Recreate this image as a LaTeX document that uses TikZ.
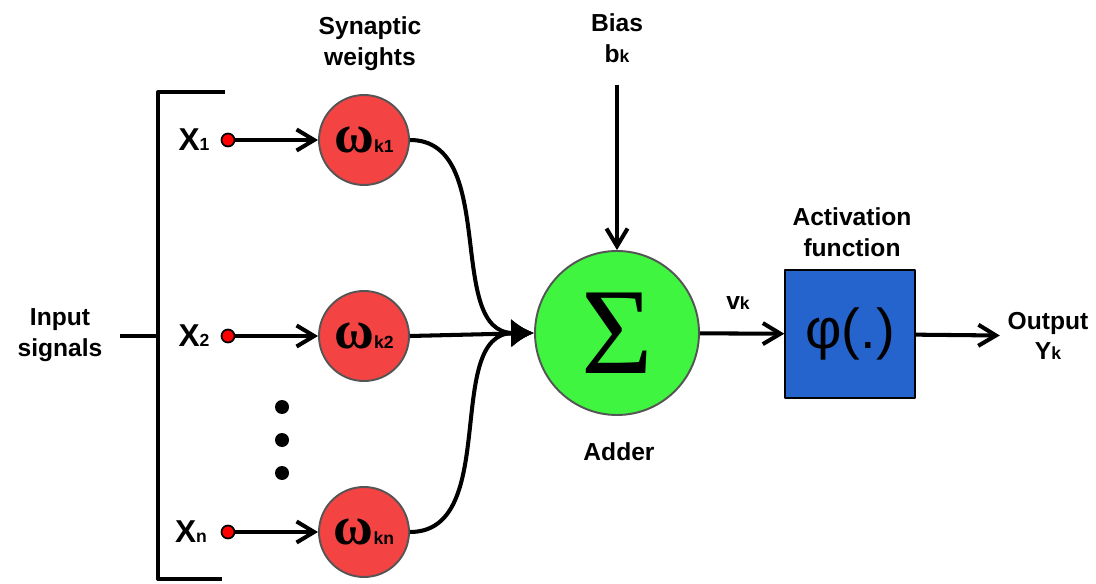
\documentclass[tikz,border=0pt]{standalone}
\usepackage{fontspec}
\setmainfont{Liberation Sans}
\newfontfamily\grkfont{Liberation Serif}
\usetikzlibrary{arrows.meta}
\definecolor{wred}{RGB}{244,67,67}
\definecolor{sgreen}{RGB}{64,245,64}
\definecolor{fblue}{RGB}{37,99,205}
\definecolor{rimgray}{RGB}{85,85,85}
\begin{document}
\begin{tikzpicture}[line width=2.3pt, font={\fontsize{14pt}{17.5pt}\selectfont\bfseries}, line join=round, >={Straight Barb[length=10pt,width=12pt]},
	weight/.style={circle, draw=rimgray, line width=1.1pt, fill=wred, minimum size=1.8cm, inner sep=0pt},
	indot/.style={circle, draw=black, line width=1pt, fill=red, minimum size=0.26cm, inner sep=0pt},
	lbl/.style={align=center}]
	\useasboundingbox (0,0) rectangle (21.92,11.66);
	% Khung tin hieu vao
	\draw (4.5,9.82) -- (3.16,9.82) -- (3.16,0.08) -- (4.44,0.08);
	\draw (2.4,4.94) -- (3.16,4.94);
	\node[lbl] (input) at (1.2,4.96) {Input\\signals};
	\node (x1) at (3.88,8.86) {\fontsize{18}{18}\selectfont X{\fontsize{10}{10}\selectfont 1}};
	\node (x2) at (3.88,4.94) {\fontsize{18}{18}\selectfont X{\fontsize{10}{10}\selectfont 2}};
	\node (xn) at (3.82,1.02) {\fontsize{18}{18}\selectfont X{\fontsize{10}{10}\selectfont n}};
	\node[indot] (d1) at (4.56,8.86) {};
	\node[indot] (d2) at (4.56,4.94) {};
	\node[indot] (dn) at (4.56,1.02) {};
	\foreach \y in {3.52,2.86,2.2} \fill (5.64,\y) circle (0.14);
	% Trong so
	\node[lbl] (synlbl) at (7.4,10.78) {Synaptic\\weights};
	\node[weight] (w1) at (7.28,8.86) {{\grkfont\fontsize{31}{31}\selectfont ω}{\fontsize{10}{10}\selectfont k1}};
	\node[weight] (w2) at (7.28,4.94) {{\grkfont\fontsize{31}{31}\selectfont ω}{\fontsize{10}{10}\selectfont k2}};
	\node[weight] (wn) at (7.28,1.02) {{\grkfont\fontsize{31}{31}\selectfont ω}{\fontsize{10}{10}\selectfont kn}};
	\draw[->] (d1) -- (w1);
	\draw[->] (d2) -- (w2);
	\draw[->] (dn) -- (wn);
	% Bo cong
	\node[circle, draw=rimgray, line width=1.1pt, fill=sgreen, minimum size=3.28cm, inner sep=0pt] (sum) at (12.34,5.0) {\grkfont\mdseries\fontsize{70}{70}\selectfont Σ};
	\node (adder) at (12.38,2.62) {Adder};
	\node[lbl] (bias) at (12.34,10.9) {Bias\\b{\fontsize{10}{10}\selectfont k}};
	\coordinate (biasin) at (12.34,9.96);
	\draw[->] (biasin) -- (sum);
	\draw[-{Latex[length=13pt,width=16pt]}] (w1.east) to[out=0,in=180] (sum.west);
	\draw[-{Latex[length=13pt,width=16pt]}] (w2.east) -- (sum.west);
	\draw[-{Latex[length=13pt,width=16pt]}] (wn.east) to[out=0,in=180] (sum.west);
	% Ham kich hoat
	\node[draw=black, line width=0.8pt, fill=fblue, minimum width=2.6cm, minimum height=2.56cm] (act) at (17.0,4.98) {\mdseries\fontsize{32}{32}\selectfont φ(.)};
	\node[lbl] (actlbl) at (17.04,7.02) {Activation\\function};
	\node (vk) at (14.76,5.6) {v{\fontsize{10}{10}\selectfont k}};
	\draw[->] (sum) -- (act);
	\node[lbl] (out) at (20.96,4.94) {Output\\Y{\fontsize{10}{10}\selectfont k}};
	\draw[->] (act) -- (out);
\end{tikzpicture}
\end{document}
